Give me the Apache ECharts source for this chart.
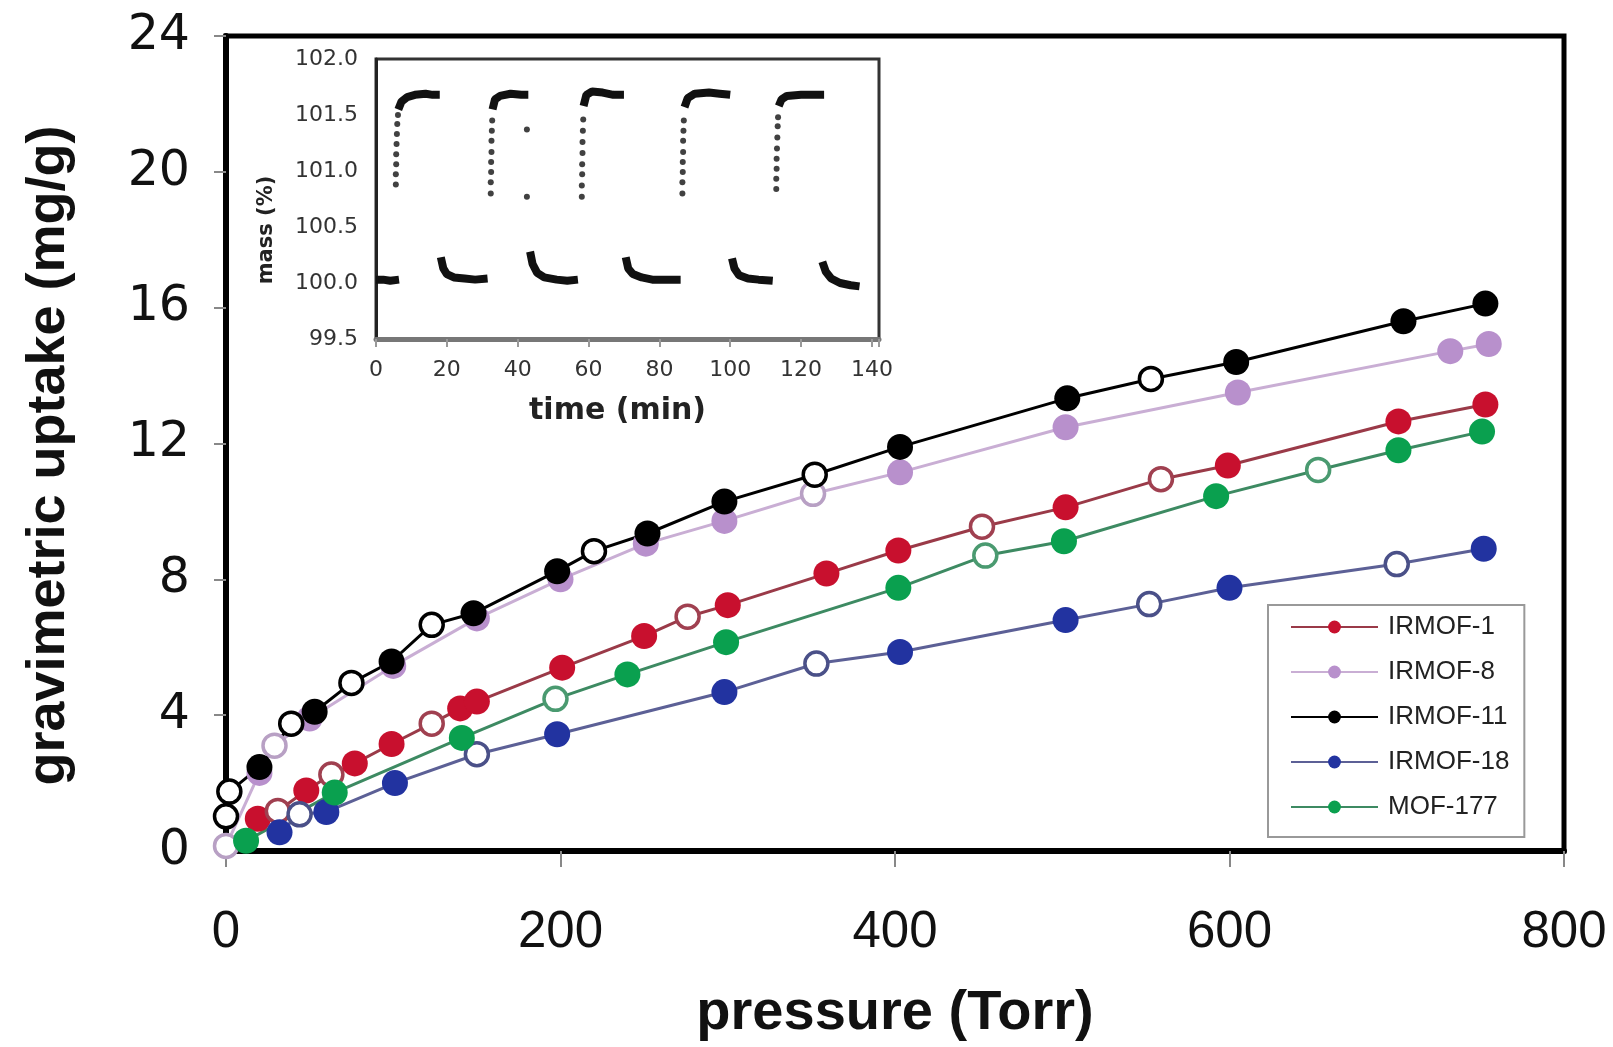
<!DOCTYPE html>
<html>
<head>
<meta charset="utf-8">
<script src="https://cdn.jsdelivr.net/npm/echarts@6/dist/echarts.min.js"></script>
<style>
  html, body { margin: 0; padding: 0; background: #fff; }
  #chart { width: 1613px; height: 1047px; }
</style>
</head>
<body>
<div id="chart"></div>
<script>
// main plot: [pressure (Torr), uptake (mg/g)]; Ads = filled, Des = open circles
const names = ['IRMOF-1', 'IRMOF-8', 'IRMOF-11', 'IRMOF-18', 'MOF-177']

const irmof1Ads = [[19, 0.95], [48, 1.78], [77, 2.58], [99, 3.15], [140, 4.2], [150, 4.4], [201, 5.4], [250, 6.33], [300, 7.24], [359, 8.17], [402, 8.85], [502, 10.12], [599, 11.35], [701, 12.65], [753, 13.15]]
const irmof1Des = [[31, 1.18], [63, 2.25], [123, 3.75], [276, 6.9], [452, 9.55], [559, 10.95]]

const irmof8Ads = [[20, 2.3], [50, 3.9], [100, 5.45], [150, 6.85], [200, 8.0], [251, 9.05], [298, 9.72], [403, 11.15], [502, 12.48], [605, 13.5], [732, 14.72], [755, 14.93]]
const irmof8Des = [[0, 0.15], [29, 3.1], [351, 10.52]]

const irmof11Ads = [[20, 2.47], [53, 4.1], [99, 5.58], [148, 7.0], [198, 8.24], [252, 9.35], [298, 10.29], [403, 11.9], [503, 13.33], [604, 14.4], [704, 15.6], [753, 16.12]]
const irmof11Des = [[0, 1.02], [2, 1.75], [39, 3.75], [75, 4.95], [123, 6.66], [220, 8.83], [352, 11.08], [553, 13.9]]

const irmof18Ads = [[32, 0.55], [60, 1.15], [101, 2.0], [198, 3.44], [298, 4.68], [403, 5.86], [502, 6.8], [600, 7.75], [752, 8.9]]
const irmof18Des = [[44, 1.08], [150, 2.85], [353, 5.52], [552, 7.27], [700, 8.45]]

const mof177Ads = [[12, 0.3], [65, 1.72], [141, 3.33], [240, 5.2], [299, 6.15], [402, 7.75], [501, 9.12], [592, 10.45], [701, 11.8], [751, 12.35]]
const mof177Des = [[197, 4.48], [454, 8.7], [653, 11.22]]

const xTicks = [0, 200, 400, 600, 800]
const yTicks = [0, 4, 8, 12, 16, 20, 24]

// inset: [time (min), mass (%)]
const insetTrace = [
  [[0, 100.03], [2, 100.03], [4, 100.02], [6.5, 100.03]],
  [[6.3, 101.55], [7.2, 101.62], [8.8, 101.66], [11, 101.68], [14, 101.69], [16, 101.68], [18, 101.68]],
  [[18.3, 100.23], [19, 100.13], [20, 100.08], [22, 100.05], [25, 100.04], [28, 100.03], [31.5, 100.04]],
  [[32.9, 101.55], [33.6, 101.64], [35, 101.67], [38, 101.69], [41, 101.68], [43, 101.68]],
  [[43.5, 100.28], [44.2, 100.17], [45.5, 100.09], [47.5, 100.05], [51, 100.03], [54, 100.02], [57, 100.03]],
  [[58.6, 101.58], [59.4, 101.68], [61, 101.71], [64, 101.7], [67, 101.68], [70, 101.68]],
  [[70.5, 100.23], [71.2, 100.13], [72.5, 100.08], [75, 100.05], [78, 100.03], [82, 100.03], [86, 100.03]],
  [[87.1, 101.57], [88, 101.65], [90, 101.69], [94, 101.7], [97, 101.69], [100, 101.68]],
  [[100.5, 100.22], [101.2, 100.13], [102.5, 100.07], [105, 100.04], [108, 100.03], [112, 100.02]],
  [[113.7, 101.58], [114.5, 101.64], [116, 101.67], [120, 101.68], [124, 101.68], [126.5, 101.68]],
  [[126, 100.19], [127, 100.1], [128.5, 100.04], [131, 100.0], [134, 99.98], [136.5, 99.97]]
]
const insetDots = [
  [5.6, 100.88], [5.6, 100.97], [5.7, 101.06], [5.7, 101.15], [5.8, 101.24], [5.9, 101.33], [6.0, 101.42], [6.2, 101.5],
  [32.4, 100.8], [32.4, 100.9], [32.5, 100.99], [32.5, 101.08], [32.6, 101.17], [32.6, 101.27], [32.7, 101.36], [32.8, 101.45],
  [42.6, 101.37], [42.6, 100.77],
  [58.1, 100.77], [58.1, 100.87], [58.2, 100.97], [58.2, 101.06], [58.3, 101.16], [58.3, 101.26], [58.4, 101.36], [58.5, 101.46],
  [86.5, 100.8], [86.5, 100.9], [86.6, 100.99], [86.6, 101.08], [86.7, 101.17], [86.7, 101.27], [86.8, 101.36], [86.9, 101.45],
  [113, 100.84], [113, 100.93], [113.1, 101.02], [113.1, 101.11], [113.2, 101.2], [113.3, 101.3], [113.4, 101.4], [113.5, 101.48]
]

const markColors = ['#c8102e', '#b890cc', '#000000', '#2233a0', '#0aa04f']
const lineColors = ['#9a3a48', '#c9aed4', '#000000', '#5c6096', '#3d8a62']
const openColors = ['#a04050', '#b8a0c4', '#000000', '#4a5088', '#4a9a70']

const adsList = [irmof1Ads, irmof8Ads, irmof11Ads, irmof18Ads, mof177Ads]
const desList = [irmof1Des, irmof8Des, irmof11Des, irmof18Des, mof177Des]

const series = []
for (let i = 0; i < names.length; i++) {
  let pts = []
  adsList[i].forEach(p => pts.push({value: p}))
  desList[i].forEach(p => pts.push({
    value: p,
    symbolSize: 23,
    itemStyle: {color: '#fff', borderColor: openColors[i], borderWidth: 3.5}
  }))
  pts.sort((a, b) => a.value[0] - b.value[0])
  series.push({
    name: names[i],
    type: 'line',
    xAxisIndex: 0,
    yAxisIndex: 0,
    data: pts,
    symbol: 'circle',
    symbolSize: 26,
    showAllSymbol: true,
    clip: false,
    lineStyle: {color: lineColors[i], width: 3},
    itemStyle: {color: markColors[i]},
    emphasis: {disabled: true}
  })
}

for (let k = 0; k < insetTrace.length; k++) {
  series.push({
    name: 'trace' + k,
    type: 'line',
    xAxisIndex: 1,
    yAxisIndex: 1,
    data: insetTrace[k],
    symbol: 'none',
    z: 6,
    lineStyle: {color: '#111', width: 8},
    emphasis: {disabled: true}
  })
}
series.push({
  name: 'dots',
  type: 'scatter',
  xAxisIndex: 1,
  yAxisIndex: 1,
  data: insetDots,
  symbolSize: 6,
  z: 6,
  itemStyle: {color: '#111'},
  emphasis: {disabled: true}
})

const option = {
  animation: false,
  backgroundColor: '#fff',
  grid: [
    {left: 226, top: 36, right: 49, bottom: 192, show: true, borderColor: '#000', borderWidth: 5},
    {left: 376, top: 59, right: 734, bottom: 708, show: true, backgroundColor: '#fff', borderColor: '#333', borderWidth: 3}
  ],
  legend: {
    data: names,
    orient: 'vertical',
    left: 1268,
    top: 605,
    padding: [9, 15, 17, 22],
    itemGap: 19,
    itemWidth: 87,
    itemHeight: 16,
    borderColor: '#999',
    borderWidth: 2,
    backgroundColor: '#fff',
    textStyle: {fontFamily: 'Liberation Sans, Arial, sans-serif', fontSize: 26, lineHeight: 26, color: '#222', padding: [0, 0, 0, 5]}
  },
  xAxis: [
    {
      gridIndex: 0,
      type: 'value',
      min: xTicks[0],
      max: xTicks[xTicks.length - 1],
      interval: 200,
      name: 'pressure (Torr)',
      nameLocation: 'middle',
      nameGap: 135,
      nameTextStyle: {fontFamily: 'Liberation Sans, Arial, sans-serif', fontWeight: 'bold', fontSize: 56, color: '#111'},
      axisLine: {lineStyle: {color: '#000', width: 6}},
      axisTick: {length: 16, lineStyle: {color: '#888', width: 2}},
      axisLabel: {margin: 56, fontFamily: 'Liberation Sans, Arial, sans-serif', fontSize: 51, color: '#111'},
      splitLine: {show: false}
    },
    {
      gridIndex: 1,
      type: 'value',
      min: 0,
      max: 142,
      interval: 20,
      name: 'time (min)',
      nameLocation: 'middle',
      nameGap: 57,
      nameTextStyle: {fontFamily: 'DejaVu Sans', fontWeight: 'bold', fontSize: 30, color: '#222', padding: [0, 20, 0, 0]},
      axisLine: {lineStyle: {color: '#777', width: 5}},
      axisTick: {length: 8, lineStyle: {color: '#999', width: 2}},
      axisLabel: {margin: 20, fontFamily: 'DejaVu Sans', fontSize: 22, color: '#333',
        formatter: v => (v % 20 === 0 ? String(v) : '')},
      splitLine: {show: false}
    }
  ],
  yAxis: [
    {
      gridIndex: 0,
      type: 'value',
      min: yTicks[0],
      max: yTicks[yTicks.length - 1],
      interval: 4,
      name: 'gravimetric uptake (mg/g)',
      nameLocation: 'middle',
      nameGap: 150,
      nameTextStyle: {fontFamily: 'Liberation Sans, Arial, sans-serif', fontWeight: 'bold', fontSize: 54, color: '#111', padding: [0, 24, 0, 0]},
      axisLine: {lineStyle: {color: '#000', width: 6}},
      axisTick: {length: 12, lineStyle: {color: '#888', width: 2}},
      axisLabel: {margin: 36, fontFamily: 'DejaVu Sans', fontSize: 49, color: '#111'},
      splitLine: {show: false}
    },
    {
      gridIndex: 1,
      type: 'value',
      min: 99.5,
      max: 102,
      interval: 0.5,
      name: 'mass (%)',
      nameLocation: 'middle',
      nameGap: 99,
      nameTextStyle: {fontFamily: 'DejaVu Sans', fontWeight: 'bold', fontSize: 21, color: '#222', padding: [0, 62, 0, 0]},
      axisLine: {lineStyle: {color: '#222', width: 3}},
      axisTick: {show: false},
      axisLabel: {margin: 18, fontFamily: 'DejaVu Sans', fontSize: 22, color: '#333', formatter: v => v.toFixed(1)},
      splitLine: {show: false}
    }
  ],
  series: series
}

const myChart = echarts.init(document.getElementById('chart'))
myChart.setOption(option)
</script>
</body>
</html>
